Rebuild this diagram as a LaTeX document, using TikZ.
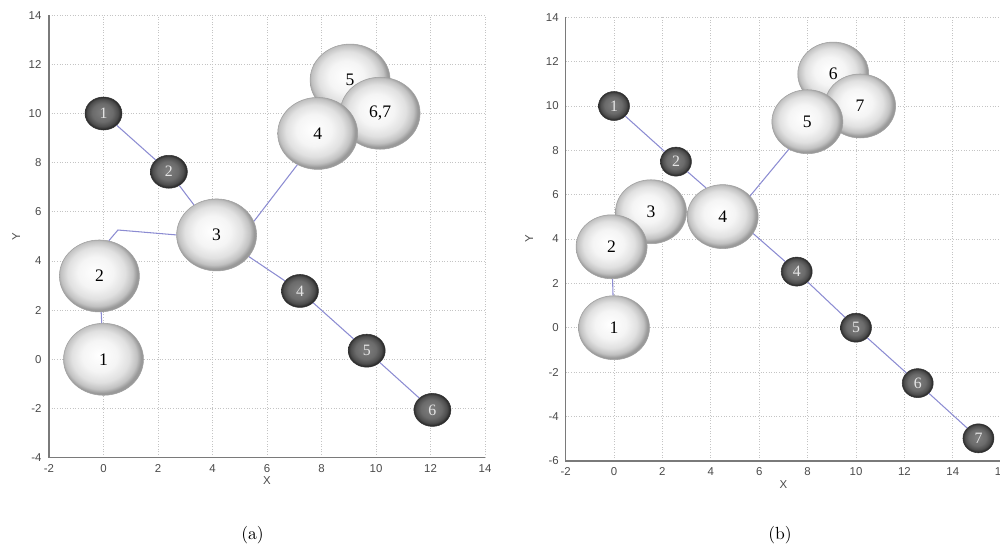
\documentclass[tikz,border=0pt]{standalone}
\usepackage{fontspec}
\newfontfamily\tickfont{Liberation Sans}
\newfontfamily\ballfont{Liberation Serif}
\usetikzlibrary{shapes.geometric}
\definecolor{bondcol}{HTML}{8C8CD2}
\definecolor{gridcol}{HTML}{C4C4C4}
\definecolor{axiscol}{HTML}{7A7A7A}
\definecolor{ticktext}{HTML}{4A4A4A}
\pgfdeclareradialshading{lightball}{\pgfpoint{-3bp}{3bp}}{color(0bp)=(white);
  color(11bp)=(white!96!black); color(18bp)=(white!88!black);
  color(22.5bp)=(white!76!black); color(25bp)=(white!60!black); color(50bp)=(white!60!black)}
\pgfdeclareradialshading{darkball}{\pgfpoint{-2bp}{2bp}}{color(0bp)=(black!50);
  color(14bp)=(black!58); color(21bp)=(black!70); color(25bp)=(black!85); color(50bp)=(black!85)}
\tikzset{
  gridline/.style={gridcol, densely dotted, line width=0.5pt},
  axisline/.style={axiscol, line width=0.9pt},
  ticklabel/.style={ticktext, inner sep=1pt, font=\tickfont\fontsize{6.5}{7}\selectfont},
  bond/.style={bondcol, line width=0.6pt},
  bigball/.style={ellipse, inner sep=0pt, draw=gray!75, line width=0.3pt,
    shading=lightball, font=\ballfont\fontsize{10}{10}\selectfont},
  smallball/.style={ellipse, inner sep=0pt, draw=black!80, line width=0.3pt,
    shading=darkball, text=black!10, font=\ballfont\fontsize{9}{9}\selectfont},
  abig/.style={bigball, minimum width=1.6cm, minimum height=1.44cm},
  asmall/.style={smallball, minimum width=0.74cm, minimum height=0.66cm},
  bbig/.style={bigball, minimum width=1.42cm, minimum height=1.28cm},
  bsmall/.style={smallball, minimum width=0.62cm, minimum height=0.58cm},
}
\begin{document}
\begin{tikzpicture}
  \useasboundingbox (0,0) rectangle (20,11.2);
  \begin{scope}[shift={(2.07,4.014)}, x=0.545cm, y=0.4916cm]
    \foreach \x in {-2,0,...,14}{
      \draw[gridline] (\x,-4) -- (\x,14);
      \node[ticklabel, anchor=north] at (\x,-4.2) {\x};
    }
    \foreach \y in {-4,-2,...,14}{
      \draw[gridline] (-2,\y) -- (14,\y);
      \node[ticklabel, anchor=east] at (-2.2,\y) {\y};
    }
    \draw[axisline] (-2,14) -- (-2,-4) -- (14,-4);
    \node[ticklabel, anchor=north] at (6,-4.7) {X};
    \node[ticklabel, rotate=90] at (-3.2,5) {Y};
    \node[abig] (a2) at (-0.15,3.39) {2};
    \node[abig] (a1) at (0,0) {1};
    \node[abig] (a3) at (4.15,5.06) {3};
    \node[abig] (a5) at (9.05,11.36) {5};
    \node[abig] (a67) at (10.15,10.01) {6,7};
    \node[abig] (a4) at (7.86,9.19) {4};
    \node[asmall] (ad1) at (0,10) {1};
    \node[asmall] (ad2) at (2.4,7.63) {2};
    \node[asmall] (ad4) at (7.21,2.78) {4};
    \node[asmall] (ad5) at (9.66,0.35) {5};
    \node[asmall] (ad6) at (12.07,-2.06) {6};
    \coordinate (ak) at (0.53,5.26);
    \foreach \u/\v in {ad1/ad2,ad2/a3,a3/ad4,ad4/ad5,ad5/ad6,a2/a1}
      \draw[bond] (\u) -- (\v);
    \draw[bond] (a3.20) -- (a4.237);
    \draw[bond] (a3.west) -- (ak) -- (a2.75);
  \end{scope}
  \begin{scope}[shift={(12.28,4.646)}, x=0.484cm, y=0.4434cm]
    \foreach \x in {-2,0,...,16}{
      \draw[gridline] (\x,-6) -- (\x,14);
      \node[ticklabel, anchor=north] at (\x,-6.2) {\x};
    }
    \foreach \y in {-6,-4,...,14}{
      \draw[gridline] (-2,\y) -- (16,\y);
      \node[ticklabel, anchor=east] at (-2.2,\y) {\y};
    }
    \draw[axisline] (-2,14) -- (-2,-6) -- (16,-6);
    \node[ticklabel, anchor=north] at (7,-6.8) {X};
    \node[ticklabel, rotate=90] at (-3.5,4) {Y};
    \node[bbig] (b3) at (1.53,5.23) {3};
    \node[bbig] (b2) at (-0.1,3.65) {2};
    \node[bbig] (b1) at (0,0) {1};
    \node[bbig] (b4) at (4.49,5.01) {4};
    \node[bbig] (b6) at (9.06,11.44) {6};
    \node[bbig] (b7) at (10.17,10) {7};
    \node[bbig] (b5) at (7.99,9.29) {5};
    \node[bsmall] (bd1) at (0,10) {1};
    \node[bsmall] (bd2) at (2.56,7.49) {2};
    \node[bsmall] (bd4) at (7.55,2.53) {4};
    \node[bsmall] (bd5) at (10,0) {5};
    \node[bsmall] (bd6) at (12.55,-2.5) {6};
    \node[bsmall] (bd7) at (15.06,-4.99) {7};
    \foreach \u/\v in {bd1/bd2,bd4/bd5,bd5/bd6,bd6/bd7,b2/b1}
      \draw[bond] (\u) -- (\v);
    \draw[bond] (bd2) -- (b4.120);
    \draw[bond] (b4.37) -- (b5.236);
    \draw[bond] (b4.331) -- (bd4);
  \end{scope}
  \node[font=\fontsize{10}{12}\selectfont] (capa) at (5.05,0.5) {(a)};
  \node[font=\fontsize{10}{12}\selectfont] (capb) at (15.6,0.5) {(b)};
\end{tikzpicture}
\end{document}
